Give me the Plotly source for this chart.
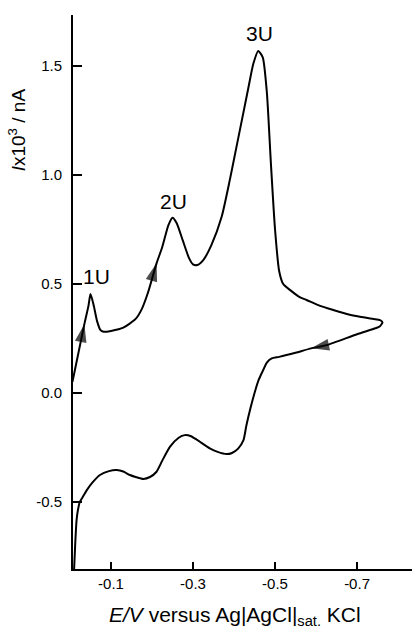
import plotly.graph_objects as go

# Cyclic voltammogram data (E in V, I x 10^3 in nA)
E_V = [-0.006, -0.035, -0.045, -0.050, -0.058, -0.066, -0.074, -0.082, -0.10, -0.13,
       -0.16, -0.175, -0.19, -0.211, -0.225, -0.24, -0.250, -0.26, -0.275, -0.29,
       -0.30, -0.310, -0.325, -0.345, -0.37, -0.39, -0.405, -0.42, -0.435, -0.447,
       -0.459, -0.47, -0.48, -0.49, -0.50, -0.51, -0.52, -0.537, -0.56, -0.577,
       -0.61, -0.642, -0.68, -0.707, -0.74, -0.756, -0.762, -0.755, -0.745, -0.70,
       -0.626, -0.588, -0.55, -0.51, -0.492, -0.48, -0.471, -0.46, -0.45, -0.44,
       -0.43, -0.423, -0.41, -0.395, -0.382, -0.36, -0.341, -0.31, -0.295, -0.280,
       -0.265, -0.244, -0.225, -0.211, -0.195, -0.179, -0.16, -0.146, -0.13, -0.114,
       -0.095, -0.073, -0.055, -0.041, -0.030, -0.024, -0.019, -0.016, -0.013, -0.010]
I_nA = [0.052, 0.316, 0.40, 0.454, 0.40, 0.33, 0.29, 0.281, 0.285, 0.30,
        0.34, 0.385, 0.46, 0.595, 0.67, 0.77, 0.804, 0.78, 0.70, 0.62,
        0.59, 0.587, 0.61, 0.68, 0.81, 0.98, 1.12, 1.26, 1.40, 1.51,
        1.569, 1.54, 1.38, 1.05, 0.75, 0.56, 0.50, 0.472, 0.44, 0.427,
        0.40, 0.381, 0.36, 0.35, 0.34, 0.335, 0.324, 0.305, 0.297, 0.27,
        0.22, 0.205, 0.185, 0.166, 0.159, 0.14, 0.105, 0.06, 0.0, -0.07,
        -0.15, -0.216, -0.255, -0.275, -0.28, -0.27, -0.254, -0.215, -0.198, -0.193,
        -0.205, -0.246, -0.31, -0.361, -0.385, -0.394, -0.385, -0.376, -0.36, -0.353,
        -0.358, -0.376, -0.41, -0.445, -0.48, -0.499, -0.54, -0.583, -0.68, -0.807]

# indices of arrow tips (direction of sweep) and peak labels
arrow_tips = [1, 13, 51]
peak_labels = ["1U", "2U", "3U"]
peak_idx = [3, 16, 30]

x_tickvals = [-0.1, -0.3, -0.5, -0.7]
x_ticktext = ["-0.1", "-0.3", "-0.5", "-0.7"]
y_tickvals = [-0.5, 0.0, 0.5, 1.0, 1.5]
y_ticktext = ["-0.5", "0.0", "0.5", "1.0", "1.5"]

x_title = "<i>E/V</i> versus Ag|AgCl|<sub>sat.</sub> KCl"
y_title = "<i>I</i>x10<sup>3</sup> / nA"

FONT = "Liberation Sans, Arial, sans-serif"

fig = go.Figure()
fig.add_trace(go.Scatter(x=E_V, y=I_nA, mode="lines",
                         line=dict(color="black", width=2, shape="spline", smoothing=0.6),
                         hoverinfo="skip", showlegend=False))

ax_x, ax_y, sizes = [], [], []
for t in arrow_tips:
    ax_x += [E_V[t - 1], E_V[t]]
    ax_y += [I_nA[t - 1], I_nA[t]]
    sizes += [0, 19]
fig.add_trace(go.Scatter(x=ax_x, y=ax_y, mode="markers",
                         marker=dict(symbol="arrow", size=sizes, color="black",
                                     angleref="previous", line=dict(width=0)),
                         hoverinfo="skip", showlegend=False))

shifts = [(6, 4), (1, 3), (1, 4)]
for lab, i, (xs, ys) in zip(peak_labels, peak_idx, shifts):
    fig.add_annotation(x=E_V[i], y=I_nA[i], text=lab, showarrow=False,
                       xanchor="center", yanchor="bottom", xshift=xs, yshift=ys,
                       font=dict(family=FONT, size=21, color="black"))

# axis titles placed as in the reference (y title in the upper part of the axis)
fig.add_annotation(xref="paper", yref="paper", x=-0.165, y=0.792, text=y_title,
                   textangle=-90, showarrow=False, xanchor="center", yanchor="middle",
                   font=dict(family=FONT, size=19, color="black"))
fig.add_annotation(xref="paper", yref="paper", x=0.478, y=-0.085, text=x_title,
                   showarrow=False, xanchor="center", yanchor="middle",
                   font=dict(family=FONT, size=21, color="black"))

fig.update_layout(
    width=414, height=628,
    margin=dict(l=73, r=2, t=15, b=59),
    paper_bgcolor="white", plot_bgcolor="white",
    font=dict(family=FONT, size=15, color="black"),
    xaxis=dict(range=[-0.0073, -0.834], showline=True, linewidth=2, linecolor="black",
               ticks="inside", ticklen=7, tickwidth=2, tickcolor="black",
               tickvals=x_tickvals, ticktext=x_ticktext, showgrid=False, zeroline=False,
               tickfont=dict(size=15)),
    yaxis=dict(range=[-0.807, 1.734], showline=True, linewidth=2, linecolor="black",
               ticks="inside", ticklen=9, tickwidth=2, tickcolor="black",
               tickvals=y_tickvals, ticktext=y_ticktext, showgrid=False, zeroline=False,
               tickfont=dict(size=15), ticklabelstandoff=6),
)

fig.write_html("out.html")
